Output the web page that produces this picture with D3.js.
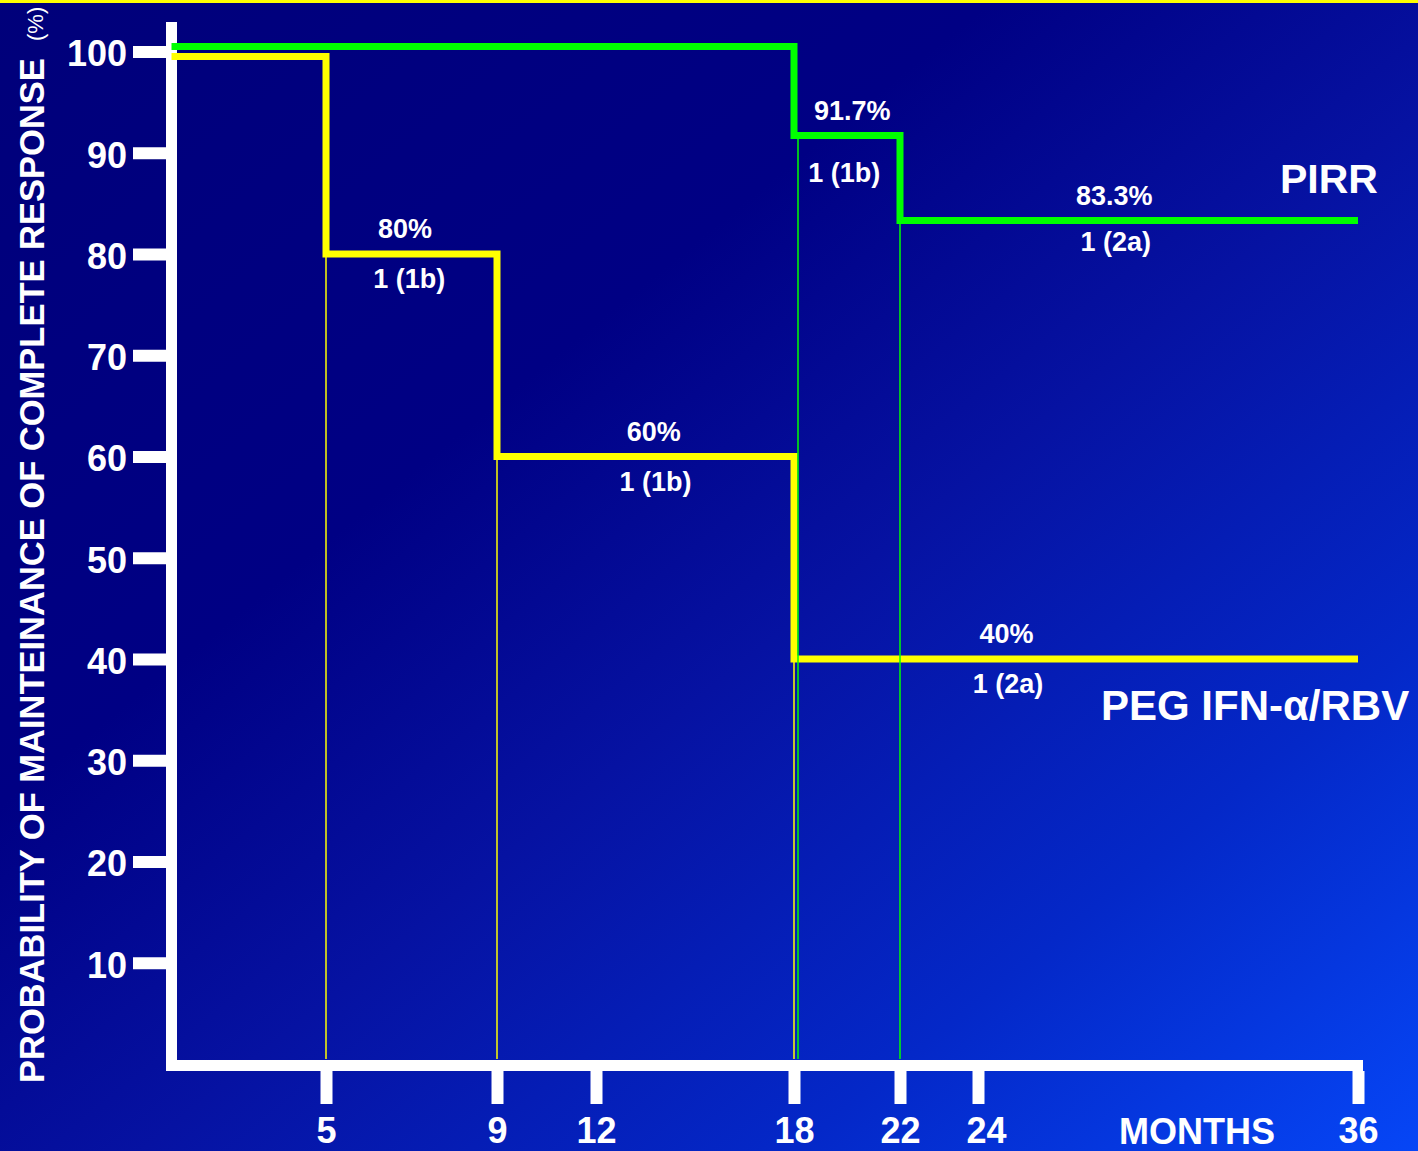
<!DOCTYPE html>
<html>
<head>
<meta charset="utf-8">
<script src="https://cdn.jsdelivr.net/npm/d3@7"></script>
<style>
  html, body { margin: 0; padding: 0; background: #000080; overflow: hidden; }
  svg { display: block; font-family: "Liberation Sans", Arial, sans-serif; }
</style>
</head>
<body>
<svg id="chart" width="1418" height="1151"></svg>
<script>
// Follow-up time (months) shown on the x axis
const monthTicks = [5, 9, 12, 18, 22, 24, 36];
// Probability ticks (%)
const probTicks = [10, 20, 30, 40, 50, 60, 70, 80, 90, 100];

// PEG IFN-α/RBV arm: Kaplan–Meier steps
const pegMonths = [0, 5, 9, 18, 36];
const pegValues = [100, 80, 60, 40, 40];
const pegPctLabels = ["80%", "60%", "40%"];
const pegCountLabels = ["1 (1b)", "1 (1b)", "1 (2a)"];

// PIRR arm: Kaplan–Meier steps
const pirrMonths = [0, 18, 22, 36];
const pirrValues = [100, 91.7, 83.3, 83.3];
const pirrPctLabels = ["91.7%", "83.3%"];
const pirrCountLabels = ["1 (1b)", "1 (2a)"];

const svg = d3.select("#chart");
const W = 1418, H = 1151;

// background
const defs = svg.append("defs");
const grad = defs.append("linearGradient")
  .attr("id", "bg").attr("x1", 0).attr("y1", 0).attr("x2", 1).attr("y2", 1);
[[0, "#00007a"], [0.35, "#000084"], [0.55, "#0612a2"], [0.78, "#0428c8"], [1, "#0646f6"]]
  .forEach(([o, c]) => grad.append("stop").attr("offset", o).attr("stop-color", c));
svg.append("rect").attr("width", W).attr("height", H).attr("fill", "url(#bg)");
svg.append("rect").attr("width", W).attr("height", 3).attr("fill", "#ffff00");

// scales: the time axis is drawn with uneven spacing between ticks
const x = d3.scaleLinear()
  .domain([0, 5, 9, 12, 18, 22, 24, 36])
  .range([171.5, 326, 497, 596, 794, 900, 978, 1358]);
const y = d3.scaleLinear().domain([0, 100]).range([1064, 51.5]);

const axisTop = 22, axisBottom = 1071, axisLeft = 166, axisRight = 1363;
const plotFloor = 1059;

// y axis ticks and labels
const yAxis = svg.append("g")
  .attr("transform", `translate(${axisLeft},0)`)
  .call(d3.axisLeft(y).tickValues(probTicks).tickSize(33).tickPadding(6));
yAxis.select(".domain").remove();
yAxis.selectAll(".tick line").attr("stroke", "#fff").attr("stroke-width", 12);
yAxis.selectAll(".tick text")
  .attr("fill", "#fff").attr("font-size", 36).attr("font-weight", "bold")
  .attr("font-family", "Liberation Sans, Arial, sans-serif").attr("dy", "0.4em");

// x axis ticks and labels
const xAxis = svg.append("g")
  .attr("transform", `translate(0,${axisBottom})`)
  .call(d3.axisBottom(x).tickValues(monthTicks).tickSize(33).tickPadding(13));
xAxis.select(".domain").remove();
xAxis.selectAll(".tick line").attr("stroke", "#fff").attr("stroke-width", 12);
xAxis.selectAll(".tick text")
  .attr("fill", "#fff").attr("font-size", 36).attr("font-weight", "bold")
  .attr("font-family", "Liberation Sans, Arial, sans-serif")
  .attr("dx", d => d === 24 ? 8 : 0);

// axis lines
svg.append("line")
  .attr("x1", axisLeft + 5.5).attr("x2", axisLeft + 5.5)
  .attr("y1", axisTop).attr("y2", axisBottom)
  .attr("stroke", "#fff").attr("stroke-width", 11);
svg.append("line")
  .attr("x1", axisLeft).attr("x2", axisRight)
  .attr("y1", axisBottom - 5.5).attr("y2", axisBottom - 5.5)
  .attr("stroke", "#fff").attr("stroke-width", 11);

// axis titles
svg.append("text")
  .attr("transform", "translate(44,1083) rotate(-90)")
  .attr("fill", "#fff").attr("font-size", 34.5).attr("font-weight", "bold")
  .text("PROBABILITY OF MAINTEINANCE OF COMPLETE RESPONSE");
svg.append("text")
  .attr("transform", "translate(43,41) rotate(-90)")
  .attr("fill", "#fff").attr("font-size", 22)
  .text("(%)");
svg.append("text")
  .attr("x", 1197).attr("y", 1144).attr("text-anchor", "middle")
  .attr("fill", "#fff").attr("font-size", 36).attr("font-weight", "bold")
  .text("MONTHS");

// survival curves
function drawArm(months, values, color, startNudge, dropNudge, otherMonths) {
  const pts = months.map((m, i) => ({ m, v: values[i] }));
  // drop lines from each step down to the time axis, set aside where both arms drop
  const shift = d => otherMonths.includes(d.m) ? dropNudge : 0;
  svg.append("g").selectAll("line")
    .data(pts.slice(1).filter((d, i) => d.v !== pts[i].v))
    .join("line")
    .attr("x1", d => x(d.m) + shift(d)).attr("x2", d => x(d.m) + shift(d))
    .attr("y1", d => y(d.v)).attr("y2", plotFloor)
    .attr("stroke", color).attr("stroke-width", 1.5);
  const line = d3.line()
    .x(d => x(d.m))
    .y(d => d.v === 100 ? y(d.v) + startNudge : y(d.v))
    .curve(d3.curveStepAfter);
  svg.append("path").datum(pts)
    .attr("d", line)
    .attr("fill", "none").attr("stroke", color)
    .attr("stroke-width", 7).attr("stroke-linejoin", "miter");
}
drawArm(pegMonths, pegValues, "#ffff00", 5, 0, pirrMonths.slice(1, -1));
drawArm(pirrMonths, pirrValues, "#00ff00", -5, 4, pegMonths.slice(1, -1));

// step annotations: percentage above each level, events (genotype) below
const pegLabelAt = [
  { m: 6.85, m2: 6.95, below: 34 },
  { m: 13.75, m2: 13.8, below: 34 },
  { m: 24.9, m2: 24.95, below: 34 }
];
const pirrLabelAt = [
  { m: 20.2, m2: 19.9, below: 46 },
  { m: 28.3, m2: 28.35, below: 30 }
];
function annotate(values, pct, counts, layout) {
  const lv = values.slice(1, 1 + pct.length);
  lv.forEach((v, i) => {
    const L = layout[i];
    svg.append("text")
      .attr("x", x(L.m)).attr("y", y(v) - 16).attr("text-anchor", "middle")
      .attr("fill", "#fff").attr("font-size", 27).attr("font-weight", "bold")
      .text(pct[i]);
    svg.append("text")
      .attr("x", x(L.m2)).attr("y", y(v) + L.below).attr("text-anchor", "middle")
      .attr("fill", "#fff").attr("font-size", 27).attr("font-weight", "bold")
      .text(counts[i]);
  });
}
annotate(pegValues, pegPctLabels, pegCountLabels, pegLabelAt);
annotate(pirrValues, pirrPctLabels, pirrCountLabels, pirrLabelAt);

// arm names
svg.append("text")
  .attr("x", 1329).attr("y", 193).attr("text-anchor", "middle")
  .attr("fill", "#fff").attr("font-size", 41).attr("font-weight", "bold")
  .text("PIRR");
svg.append("text")
  .attr("x", 1101).attr("y", 720)
  .attr("fill", "#fff").attr("font-size", 42).attr("font-weight", "bold")
  .text("PEG IFN-α/RBV");
</script>
</body>
</html>
